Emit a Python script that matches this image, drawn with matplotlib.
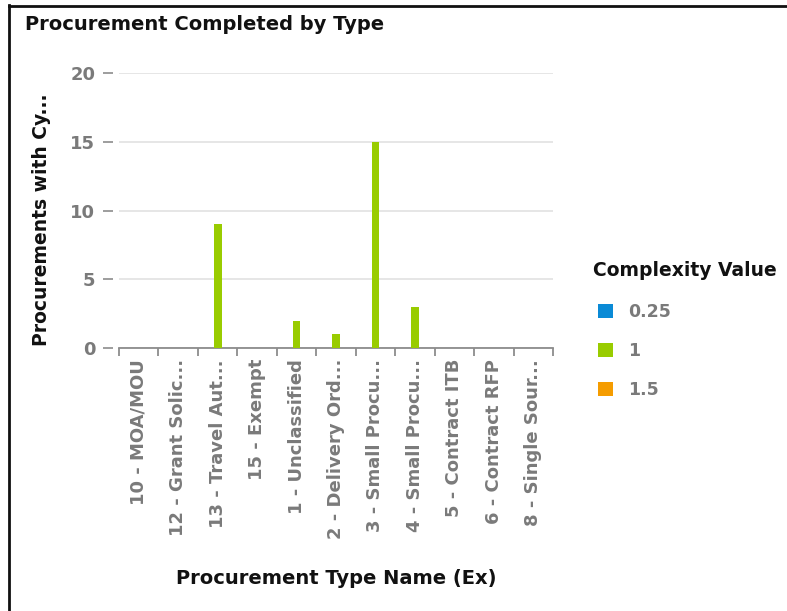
import matplotlib
matplotlib.use("Agg")
import numpy as np
from matplotlib import pyplot as plt
from matplotlib.lines import Line2D
from matplotlib.patches import Patch

types = ['10 - MOA/MOU', '12 - Grant Solic...', '13 - Travel Aut...', '15 - Exempt',
         '1 - Unclassified', '2 - Delivery Ord...', '3 - Small Procu...',
         '4 - Small Procu...', '5 - Contract ITB', '6 - Contract RFP', '8 - Single Sour...']
complexity = ['0.25', '1', '1.5']
cnt_025 = [0, 0, 0, 0, 0, 0, 0, 0, 0, 0, 0]
cnt_1 = [0, 0, 9, 0, 2, 1, 15, 3, 0, 0, 0]
cnt_15 = [0, 0, 0, 0, 0, 0, 0, 0, 0, 0, 0]
yticks = [0, 5, 10, 15, 20]

colors = ['#0a8ad6', '#99cc00', '#f59c00']
grey = '#7a7a7a'
plt.rcParams['font.family'] = 'DejaVu Sans'
plt.rcParams['font.weight'] = 'bold'

W, H = 787, 611
fig = plt.figure(figsize=(W / 100, H / 100), dpi=100)
ax = fig.add_axes([119 / W, 1 - 348 / H, (553 - 119) / W, (348 - 73) / H])

x = np.arange(len(types))
bw = 0.2
for i, vals in enumerate([cnt_025, cnt_1, cnt_15]):
    ax.bar(x + (i - 1) * bw, vals, width=bw, color=colors[i], zorder=3)

ax.set_xlim(-0.5, len(types) - 0.5)
ax.set_ylim(0, 20)
ax.set_yticks(yticks)
ax.yaxis.grid(True, color='#e4e4e4', lw=1.3, zorder=0)

for s in ['top', 'right']:
    ax.spines[s].set_visible(False)
ax.spines['left'].set_position(('outward', 4))
ax.spines['left'].set_visible(False)
ax.spines['bottom'].set_color('#8c8c8c')
ax.spines['bottom'].set_linewidth(1.3)

ax.tick_params(axis='y', length=7, width=1.2, color='#8c8c8c', pad=6,
               labelsize=13, labelcolor=grey)
# category separators on the x axis, labels at the centres
ax.set_xticks(np.arange(len(types) + 1) - 0.5)
ax.set_xticklabels([])
ax.tick_params(axis='x', which='major', length=6, width=1.3, color='#8c8c8c')
ax.set_xticks(x, minor=True)
ax.set_xticklabels(types, minor=True, rotation=90, ha='center', va='top')
ax.tick_params(axis='x', which='minor', length=0, pad=8, labelsize=13, labelcolor=grey)

fig.text(25 / W, 1 - 24 / H, 'Procurement Completed by Type', fontsize=14,
         fontweight='bold', color='#111111', ha='left', va='center')
fig.text(42 / W, 1 - 220 / H, 'Procurements with Cy...', fontsize=13.5, fontweight='bold',
         color='#111111', rotation=90, ha='center', va='center')
fig.text(336 / W, 1 - 578 / H, 'Procurement Type Name (Ex)', fontsize=14,
         fontweight='bold', color='#111111', ha='center', va='center')

# legend: heading as its own text, swatches slightly indented below it
fig.text(593 / W, 1 - 270 / H, 'Complexity Value', fontsize=13.5, fontweight='bold',
         color='#111111', ha='left', va='center')
handles = [Patch(facecolor=c, edgecolor='none') for c in colors]
fig.legend(handles, complexity, loc='upper left',
           bbox_to_anchor=(598 / W, 1 - 303 / H), frameon=False, borderpad=0,
           borderaxespad=0, prop={'size': 12.5, 'weight': 'bold'}, labelcolor=grey,
           handlelength=0.85, handleheight=0.85, handletextpad=0.9,
           labelspacing=1.22)

# outer frame: left and top edges
fig.add_artist(Line2D([8.5 / W, 8.5 / W], [0, 1 - 5 / H], color='#111111', lw=2.0,
                      transform=fig.transFigure))
fig.add_artist(Line2D([8.5 / W, 1], [1 - 6 / H, 1 - 6 / H], color='#111111', lw=2.0,
                      transform=fig.transFigure))

fig.savefig('out.png', dpi=100)
